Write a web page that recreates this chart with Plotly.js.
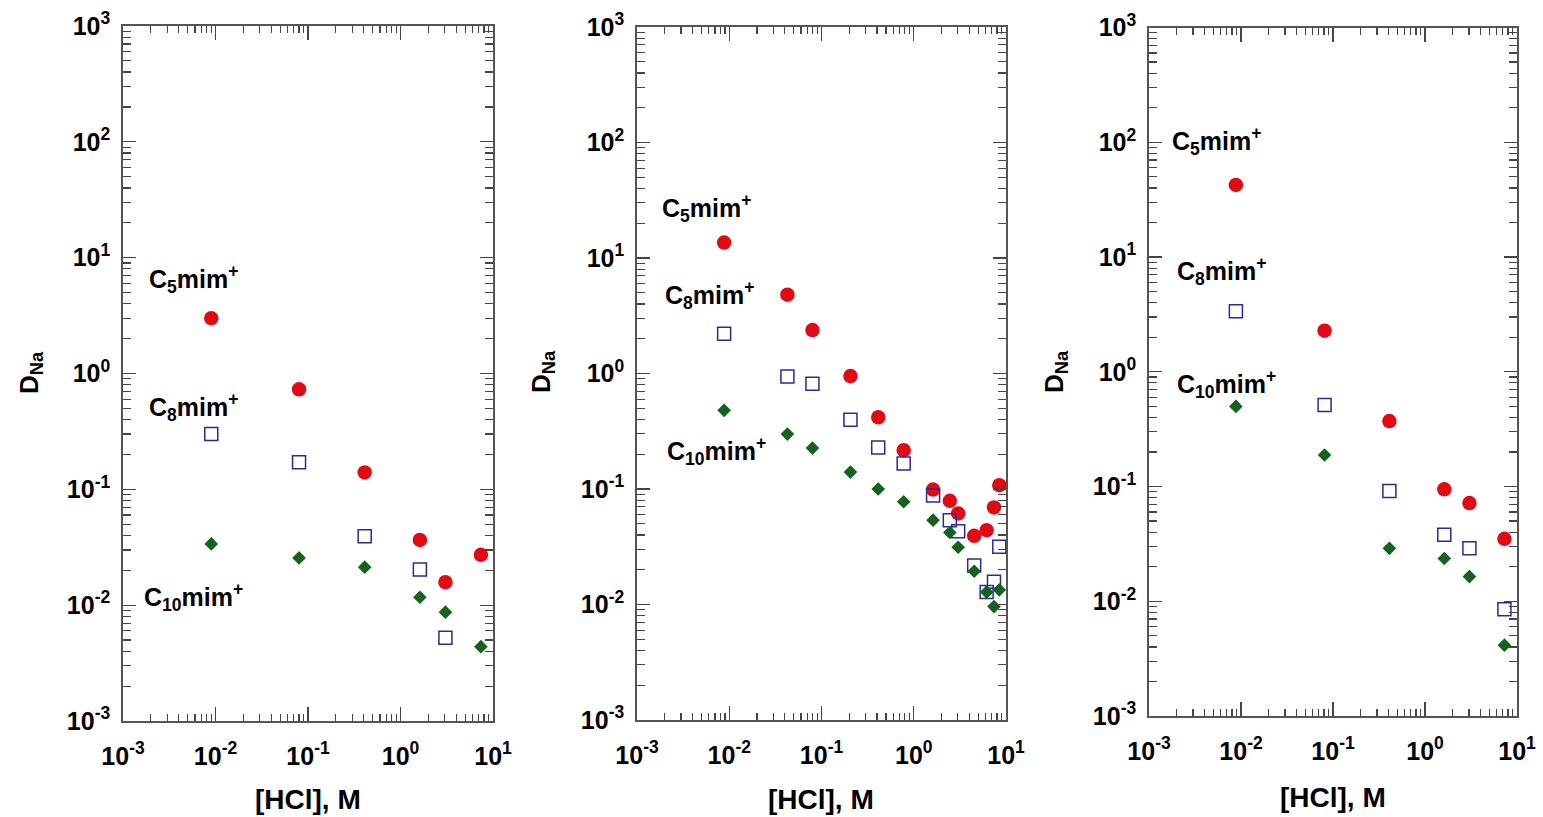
<!DOCTYPE html>
<html>
<head>
<meta charset="utf-8">
<script src="https://cdn.plot.ly/plotly-3.0.1.min.js"></script>
<style>
  html, body { margin: 0; padding: 0; background: #fff; }
  #chart { width: 1543px; height: 817px; }
</style>
</head>
<body>
<div id="chart"></div>
<script>
// ---------- Data ----------
// Panel 1
const hcl_p1   = [0.009, 0.08, 0.41, 1.62, 3.06, 7.4];
const c5_p1    = [3.0, 0.73, 0.14, 0.0366, 0.0158, 0.0272];
const c8_p1    = [0.30, 0.171, 0.0394, 0.0203, 0.00523];
const hcl_c8_p1 = [0.009, 0.08, 0.41, 1.62, 3.06];
const c10_p1   = [0.0338, 0.0256, 0.0213, 0.0117, 0.0087, 0.00438];

// Panel 2
const hcl_p2   = [0.0088, 0.0427, 0.0798, 0.206, 0.412, 0.778, 1.62, 2.46, 3.03, 4.52, 6.17, 7.41, 8.46];
const c5_p2    = [13.6, 4.81, 2.38, 0.95, 0.418, 0.217, 0.0988, 0.079, 0.0615, 0.0393, 0.044, 0.0693, 0.108];
const c8_p2    = [2.21, 0.942, 0.814, 0.398, 0.229, 0.166, 0.0877, 0.0537, 0.0431, 0.0218, 0.0128, 0.0157, 0.0316];
const c10_p2   = [0.48, 0.299, 0.226, 0.14, 0.1, 0.0776, 0.0537, 0.042, 0.0313, 0.0194, 0.0128, 0.0096, 0.0134];

// Panel 3
const hcl_p3   = [0.0088, 0.081, 0.41, 1.62, 3.04, 7.3];
const c5_p3    = [42.5, 2.28, 0.372, 0.0944, 0.0717, 0.035];
const c8_p3    = [3.36, 0.512, 0.0912, 0.0379, 0.0289, 0.00853];
const c10_p3   = [0.499, 0.188, 0.0289, 0.0236, 0.0164, 0.00414];

// Tick labels
const xTickVals  = [0.001, 0.01, 0.1, 1, 10];
const xTickText  = ['10<sup>-3</sup>', '10<sup>-2</sup>', '10<sup>-1</sup>', '10<sup>0</sup>', '10<sup>1</sup>'];
const yTickVals  = [0.001, 0.01, 0.1, 1, 10, 100, 1000];
const yTickText  = ['10<sup>-3</sup>', '10<sup>-2</sup>', '10<sup>-1</sup>', '10<sup>0</sup>', '10<sup>1</sup>', '10<sup>2</sup>', '10<sup>3</sup>'];

const seriesNames = ['C<sub>5</sub>mim<sup>+</sup>', 'C<sub>8</sub>mim<sup>+</sup>', 'C<sub>10</sub>mim<sup>+</sup>'];
const xTitle = '[HCl], M';
const yTitle = 'D<sub>Na</sub>';

// ---------- Styling ----------
const W = 1543, H = 817;
const FONT = 'Liberation Sans, Arial, sans-serif';
const RED = '#e30b13', BLUE = '#2a2a9c', GREEN = '#15621f';

function minorVals(lo, hi) {
  const v = [];
  for (let e = lo; e < hi; e++) for (let d = 2; d <= 9; d++) v.push(d * Math.pow(10, e));
  return v;
}

function mkTraces(xs, ys, xa, ya) {
  return [
    {x: xs.c5, y: ys.c5, type: 'scatter', mode: 'markers', xaxis: xa, yaxis: ya,
     marker: {symbol: 'circle', size: 14.5, color: RED, line: {width: 0}}},
    {x: xs.c8, y: ys.c8, type: 'scatter', mode: 'markers', xaxis: xa, yaxis: ya,
     marker: {symbol: 'square-open', size: 13, color: BLUE, line: {width: 1.5, color: BLUE}}},
    {x: xs.c10, y: ys.c10, type: 'scatter', mode: 'markers', xaxis: xa, yaxis: ya,
     marker: {symbol: 'diamond', size: 10.5, color: GREEN, line: {width: 0}}}
  ];
}

const data = [].concat(
  mkTraces({c5: hcl_p1, c8: hcl_c8_p1, c10: hcl_p1}, {c5: c5_p1, c8: c8_p1, c10: c10_p1}, 'x', 'y'),
  mkTraces({c5: hcl_p2, c8: hcl_p2, c10: hcl_p2}, {c5: c5_p2, c8: c8_p2, c10: c10_p2}, 'x2', 'y2'),
  mkTraces({c5: hcl_p3, c8: hcl_p3, c10: hcl_p3}, {c5: c5_p3, c8: c8_p3, c10: c10_p3}, 'x3', 'y3')
);

function xAxis(domain, anchor) {
  return {
    type: 'log', range: [-3, 1], domain: domain, anchor: anchor,
    tickmode: 'array', tickvals: xTickVals, ticktext: xTickText,
    ticks: 'inside', ticklen: 14, tickwidth: 1.3, tickcolor: '#444',
    minor: {tickmode: 'array', tickvals: minorVals(-3, 1), ticks: 'inside', ticklen: 7, tickwidth: 1.2, tickcolor: '#444', showgrid: false},
    showline: true, linecolor: '#555', linewidth: 1.8, mirror: 'ticks',
    showgrid: false, zeroline: false,
    ticklabelstandoff: 12,
    tickfont: {family: FONT, size: 25, color: '#000', weight: 'bold'},
    fixedrange: true
  };
}
function yAxis(domain, anchor) {
  return {
    type: 'log', range: [-3, 3], domain: domain, anchor: anchor,
    tickmode: 'array', tickvals: yTickVals, ticktext: yTickText,
    ticks: 'inside', ticklen: 13, tickwidth: 1.3, tickcolor: '#444',
    minor: {tickmode: 'array', tickvals: minorVals(-3, 3), ticks: 'inside', ticklen: 8, tickwidth: 1.2, tickcolor: '#444', showgrid: false},
    showline: true, linecolor: '#555', linewidth: 1.8, mirror: 'ticks',
    showgrid: false, zeroline: false,
    ticklabelstandoff: 6,
    tickfont: {family: FONT, size: 25, color: '#000', weight: 'bold'},
    fixedrange: true
  };
}

const px = v => v / W;
const py = v => 1 - v / H;

function txt(text, x, y, size, extra) {
  return Object.assign({
    text: text, xref: 'paper', yref: 'paper', x: px(x), y: py(y),
    xanchor: 'left', yanchor: 'middle', showarrow: false,
    font: {family: FONT, size: size, color: '#000', weight: 'bold'}
  }, extra || {});
}

const annotations = [
  // panel 1 labels
  txt(seriesNames[0], 147, 279, 25),
  txt(seriesNames[1], 147, 407, 25),
  txt(seriesNames[2], 142, 597, 25),
  // panel 2
  txt(seriesNames[0], 660, 208, 25),
  txt(seriesNames[1], 663, 295, 25),
  txt(seriesNames[2], 665, 451, 25),
  // panel 3
  txt(seriesNames[0], 1170, 141, 25),
  txt(seriesNames[1], 1175, 271, 25),
  txt(seriesNames[2], 1175, 384, 25),
  // x titles
  txt(xTitle, 308, 799, 28, {xanchor: 'center'}),
  txt(xTitle, 821, 799, 28, {xanchor: 'center'}),
  txt(xTitle, 1333, 797, 28, {xanchor: 'center'}),
  // y titles
  txt(yTitle, 30, 372, 26, {xanchor: 'center', textangle: -90}),
  txt(yTitle, 542, 372, 26, {xanchor: 'center', textangle: -90}),
  txt(yTitle, 1055, 372, 26, {xanchor: 'center', textangle: -90})
];

const layout = {
  width: W, height: H,
  margin: {l: 0, r: 0, t: 0, b: 0},
  paper_bgcolor: '#fff', plot_bgcolor: '#fff',
  showlegend: false,
  xaxis:  xAxis([px(123), px(493)], 'y'),
  yaxis:  yAxis([py(721), py(26)], 'x'),
  xaxis2: xAxis([px(637), px(1006)], 'y2'),
  yaxis2: yAxis([py(720), py(27)], 'x2'),
  xaxis3: xAxis([px(1149), px(1517)], 'y3'),
  yaxis3: yAxis([py(716), py(27.5)], 'x3'),
  annotations: annotations
};

Plotly.newPlot('chart', data, layout, {displayModeBar: false, staticPlot: true});
</script>
</body>
</html>
